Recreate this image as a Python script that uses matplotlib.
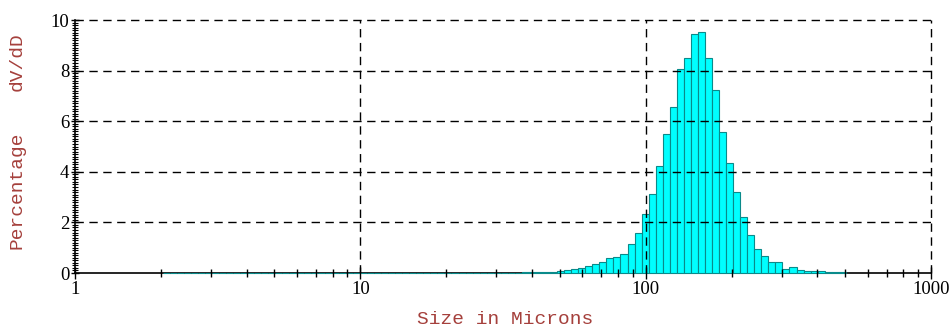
import numpy as np
import matplotlib
matplotlib.use("Agg")
import matplotlib.pyplot as plt
from matplotlib.ticker import LogLocator, MultipleLocator, NullFormatter, FixedLocator

# Particle size distribution: volume percentage per size class (geometric classes)
size_min_um = 2.03
size_max_um = 503.0
volume_pct = [
    # 2 - ~35 um: essentially empty classes
    0.00, 0.00, 0.00, 0.00, 0.00, 0.00, 0.00, 0.00, 0.00, 0.00,
    0.00, 0.00, 0.00, 0.00, 0.00, 0.00, 0.00, 0.00, 0.00, 0.00,
    0.00, 0.00, 0.00, 0.00, 0.00, 0.00, 0.00, 0.00, 0.00, 0.00,
    0.00, 0.00, 0.00, 0.00, 0.00, 0.00, 0.00, 0.00, 0.00, 0.00,
    0.00, 0.00, 0.00, 0.00, 0.00, 0.01, 0.01, 0.01, 0.01, 0.01,
    # fine tail
    0.01, 0.02, 0.02, 0.03, 0.04, 0.05, 0.08, 0.10, 0.14, 0.19,
    0.27, 0.36, 0.44, 0.58, 0.63, 0.75, 1.16, 1.57,
    # main peak
    2.32, 3.12, 4.23, 5.48, 6.58, 8.05, 8.51, 9.45, 9.51, 8.51,
    7.22, 5.59, 4.35, 3.20, 2.20, 1.50, 0.94, 0.68, 0.43, 0.45,
    # coarse tail
    0.17, 0.22, 0.12, 0.08, 0.07, 0.08, 0.04, 0.03, 0.02,
]

x_label = "Size in Microns"
y_label_lower = "Percentage"
y_label_upper = "dV/dD"
x_ticks = [1, 10, 100, 1000]
x_tick_labels = ["1", "10", "100", "1000"]
y_ticks = [0, 2, 4, 6, 8, 10]

label_color = "#a5403c"

edges = np.geomspace(size_min_um, size_max_um, len(volume_pct) + 1)
lefts = edges[:-1]
widths = np.diff(edges)

fig = plt.figure(figsize=(9.53, 3.29), dpi=100)
ax = fig.add_axes([0.0787, 0.1702, 0.8982, 0.769])

bars = ax.bar(lefts, volume_pct, width=widths, align="edge",
              color="#00ffff", edgecolor="#0a8a8a", linewidth=0.8, zorder=2)
for b in bars:
    b.set_clip_on(False)

ax.set_xscale("log")
ax.set_xlim(1, 1000)
ax.set_ylim(0, 10)

ax.xaxis.set_major_locator(FixedLocator(x_ticks))
ax.set_xticklabels(x_tick_labels)
ax.xaxis.set_minor_locator(LogLocator(base=10, subs=np.arange(2, 10)))
ax.xaxis.set_minor_formatter(NullFormatter())
ax.yaxis.set_major_locator(FixedLocator(y_ticks))
ax.yaxis.set_minor_locator(MultipleLocator(0.1))

serif = ["Liberation Serif", "DejaVu Serif"]
for lab in ax.get_xticklabels() + ax.get_yticklabels():
    lab.set_fontfamily(serif)
    lab.set_fontsize(13.5)

ax.tick_params(axis="x", which="major", direction="inout", length=9, width=1, pad=1)
ax.tick_params(axis="x", which="minor", direction="inout", length=6, width=1)
ax.tick_params(axis="y", which="major", direction="inout", length=6, width=1, pad=1)
ax.tick_params(axis="y", which="minor", direction="inout", length=4, width=0.8)
ax.tick_params(colors="black")

for side in ("top", "right"):
    ax.spines[side].set_visible(False)
for side in ("left", "bottom"):
    ax.spines[side].set_linewidth(1.2)
    ax.spines[side].set_zorder(1)

ax.set_axisbelow(False)
dash = (0, (6, 4))
ax.grid(True, which="major", color="black", linestyle=dash, linewidth=1.0)
ax.get_xgridlines()[0].set_visible(False)
ax.get_ygridlines()[0].set_visible(False)
# the outermost grid lines sit on the axes edge; draw them unclipped
ax.get_xgridlines()[-1].set_clip_on(False)
ax.get_ygridlines()[-1].set_clip_on(False)

mono = ["Liberation Mono", "DejaVu Sans Mono"]
fig.text(505 / 953, 1 - 319 / 329, x_label, ha="center", va="center",
         family=mono, fontsize=14, color=label_color)
fig.text(17 / 953, 1 - 190 / 329, y_label_lower, ha="center", va="center",
         rotation=90, family=mono, fontsize=14, color=label_color)
fig.text(17 / 953, 1 - 62 / 329, y_label_upper, ha="center", va="center",
         rotation=90, family=mono, fontsize=14, color=label_color)

fig.savefig("out.png", dpi=100)
